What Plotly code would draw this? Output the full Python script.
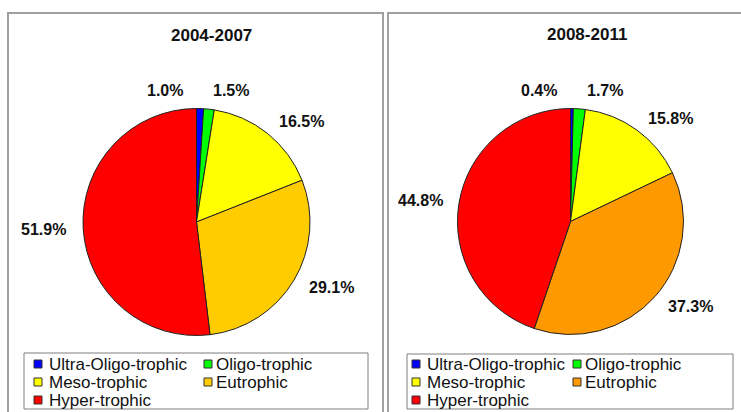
import math
import plotly.graph_objects as go

W, H = 741, 412

categories = ["Ultra-Oligo-trophic", "Oligo-trophic", "Meso-trophic", "Eutrophic", "Hyper-trophic"]
titles = ["2004-2007", "2008-2011"]
values_2004_2007 = [1.0, 1.5, 16.5, 29.1, 51.9]
values_2008_2011 = [0.4, 1.7, 15.8, 37.3, 44.8]
colors_2004_2007 = ["#0000FF", "#00FF00", "#FFFF00", "#FFCC00", "#FF0000"]
colors_2008_2011 = ["#0000FF", "#00FF00", "#FFFF00", "#FF9900", "#FF0000"]

FONT = "Arial, Liberation Sans, sans-serif"

# layout of the two panels (pixels)
panels = [
    dict(values=values_2004_2007, colors=colors_2004_2007, title=titles[0],
         cx=196.5, cy=222, R=113.5, box=(8, 13, 383), title_x=212, title_y=36,
         leg=(24, 353, 368, 409), leg_icon=(38, 208), leg_text=(47, 214)),
    dict(values=values_2008_2011, colors=colors_2008_2011, title=titles[1],
         cx=570.5, cy=221.5, R=113, box=(388, 13, 745), title_x=587, title_y=35,
         leg=(407, 354, 733, 409), leg_icon=(416, 577), leg_text=(425, 583)),
]
leg_rows = [364, 382, 400]


def px(x):
    return x / W


def py(y):
    return 1 - y / H


fig = go.Figure()
annotations = []
shapes = []

for p in panels:
    cx, cy, R = p["cx"], p["cy"], p["R"]
    fig.add_trace(go.Pie(
        labels=categories, values=p["values"], sort=False, direction="clockwise",
        rotation=0, textinfo="none", showlegend=False,
        marker=dict(colors=p["colors"], line=dict(color="#222222", width=1)),
        domain=dict(x=[px(cx - R), px(cx + R)], y=[py(cy + R), py(cy - R)]),
    ))

    # panel frame
    bx0, by0, bx1 = p["box"]
    shapes.append(dict(type="rect", xref="paper", yref="paper",
                       x0=px(bx0), x1=px(bx1), y0=py(by0), y1=-0.2,
                       line=dict(color="#a0a0a0", width=2), layer="below"))

    # title
    annotations.append(dict(text="<b>%s</b>" % p["title"], xref="paper", yref="paper",
                            x=px(p["title_x"]), y=py(p["title_y"]), showarrow=False,
                            xanchor="center", yanchor="middle",
                            font=dict(family=FONT, size=17, color="#111111")))

    # percentage labels
    total = sum(p["values"])
    cum = 0.0
    small_idx = 0
    for i, v in enumerate(p["values"]):
        mid = (cum + v / 2) / total
        cum += v
        theta = math.radians(90 - 360 * mid)
        txt = "<b>%.1f%%</b>" % v
        if v / total < 0.03:
            ly = cy - 1.16 * R
            if small_idx == 0:
                lx, xa = cx - 0.1 * R, "right"
            else:
                lx, xa = cx + 0.13 * R, "left"
            small_idx += 1
        else:
            lx = cx + 1.13 * R * math.cos(theta)
            ly = cy - 1.13 * R * math.sin(theta)
            xa = "left" if math.cos(theta) > 0 else "right"
        annotations.append(dict(text=txt, xref="paper", yref="paper", x=px(lx), y=py(ly),
                                showarrow=False, xanchor=xa, yanchor="middle",
                                font=dict(family=FONT, size=16, color="#111111")))

    # legend box
    lx0, ly0, lx1, ly1 = p["leg"]
    shapes.append(dict(type="rect", xref="paper", yref="paper",
                       x0=px(lx0), x1=px(lx1), y0=py(ly0), y1=py(ly1),
                       line=dict(color="#7f7f7f", width=1), fillcolor="white"))
    for i, (name, col) in enumerate(zip(categories, p["colors"])):
        r, c = divmod(i, 2)
        yc = leg_rows[r]
        ix = p["leg_icon"][c]
        shapes.append(dict(type="rect", xref="paper", yref="paper",
                           x0=px(ix - 4), x1=px(ix + 4), y0=py(yc - 4), y1=py(yc + 4),
                           line=dict(color="#333333", width=1), fillcolor=col))
        annotations.append(dict(text=name, xref="paper", yref="paper",
                                x=px(p["leg_text"][c]), y=py(yc), showarrow=False,
                                xanchor="left", yanchor="middle",
                                font=dict(family=FONT, size=17, color="#111111")))

fig.update_layout(
    width=W, height=H, margin=dict(l=0, r=0, t=0, b=0),
    paper_bgcolor="white", plot_bgcolor="white",
    annotations=annotations, shapes=shapes, showlegend=False,
)

fig.write_html("out.html", config={"displayModeBar": False},
               post_script="document.body.style.margin='0';document.body.style.padding='0';")
